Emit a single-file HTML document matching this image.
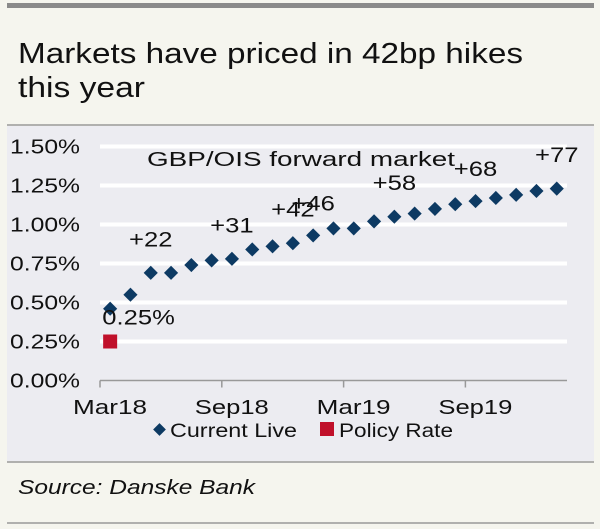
<!DOCTYPE html>
<html><head><meta charset="utf-8"><style>
body{margin:0;width:600px;height:529px;background:#f5f5ee;font-family:"Liberation Sans",sans-serif;overflow:hidden}
svg{display:block}
</style></head><body>
<svg width="600" height="529">
<rect x="7" y="3" width="587" height="5" fill="#8a8a8a"/>
<text x="18" y="63" font-size="29" fill="#111" textLength="505" lengthAdjust="spacingAndGlyphs">Markets have priced in 42bp hikes</text>
<text x="18" y="97" font-size="29" fill="#111" textLength="127" lengthAdjust="spacingAndGlyphs">this year</text>
<line x1="7" y1="125" x2="594" y2="125" stroke="#999" stroke-width="1.5"/>
<rect x="7" y="126" width="587" height="335" fill="#ececf1"/>
<g id="grid"></g>
<g id="axes"></g>
<g id="marks"></g>
<g id="anno"></g>
<text x="147" y="166" font-size="20" fill="#111" textLength="308" lengthAdjust="spacingAndGlyphs">GBP/OIS forward market</text>
<g>
<rect x="155" y="425" width="9" height="9" fill="#0d3a63" transform="rotate(45 159.5 429.5)"/>
<text x="170" y="437" font-size="19" fill="#111" textLength="127" lengthAdjust="spacingAndGlyphs">Current Live</text>
<rect x="320" y="422" width="14" height="14" fill="#c0102a"/>
<text x="339" y="437" font-size="19" fill="#111" textLength="114" lengthAdjust="spacingAndGlyphs">Policy Rate</text>
</g>
<line x1="7" y1="462" x2="594" y2="462" stroke="#999" stroke-width="1.5"/>
<text x="18" y="494" font-size="20" font-style="italic" fill="#111" textLength="237" lengthAdjust="spacingAndGlyphs">Source: Danske Bank</text>
<line x1="7" y1="523" x2="594" y2="523" stroke="#999" stroke-width="1.5"/>
</svg>
<script>
const yTicks=[0,0.25,0.5,0.75,1.0,1.25,1.5];
const yTickLabels=["0.00%","0.25%","0.50%","0.75%","1.00%","1.25%","1.50%"];
const xTickMonths=[0,6,12,18];
const xTickLabels=["Mar18","Sep18","Mar19","Sep19"];
const liveValues=[0.46,0.55,0.69,0.69,0.74,0.77,0.78,0.84,0.86,0.88,0.93,0.975,0.975,1.02,1.05,1.07,1.10,1.13,1.15,1.17,1.19,1.215,1.23];
const policyValues=[0.25];
const annoLabels=["+22","+31","+42","+46","+58","+68","+77","0.25%"];
const annoMonths=[2,6,9,10,14,18,22,1.4];
const annoValues=[0.86,0.95,1.05,1.09,1.22,1.31,1.40,0.36];
const NS="http://www.w3.org/2000/svg";
const xS=m=>100+(m+0.5)*20.3;
const xT=m=>100+m*20.3;
const yS=v=>380.5-v*156;
function mk(t,a,p){const e=document.createElementNS(NS,t);for(const k in a)e.setAttribute(k,a[k]);p.appendChild(e);return e;}
const grid=document.getElementById('grid'),axes=document.getElementById('axes'),marks=document.getElementById('marks'),anno=document.getElementById('anno');
yTicks.forEach((v,i)=>{
 if(v>0){const g=mk('line',{x1:100,x2:567,y1:yS(v),y2:yS(v),stroke:'#fff','stroke-width':4},grid);
 
 }
 const t=mk('text',{x:10,y:yS(v)+7,'font-size':20,fill:'#111',textLength:70,lengthAdjust:'spacingAndGlyphs'},axes);t.textContent=yTickLabels[i];
 
 
});
const ax=mk('line',{x1:100,x2:567,y1:yS(0),y2:yS(0),stroke:'#999','stroke-width':1.5},axes);


xTickMonths.forEach((m,i)=>{
 const l=mk('line',{x1:xT(m),x2:xT(m),y1:yS(0),y2:yS(0)+7,stroke:'#999','stroke-width':1.5},axes);
 
 
 const t=mk('text',{x:xT(m)-27,y:414,'font-size':20,fill:'#111',textLength:74,lengthAdjust:'spacingAndGlyphs'},axes);t.textContent=xTickLabels[i];
 
 
});
liveValues.forEach((v,i)=>{
 const x=xS(i),y=yS(v);
 const d=mk('rect',{x:x-5,y:y-5,width:10,height:10,fill:'#0d3a63',transform:`rotate(45 ${x} ${y})`},marks);
 
 
});
policyValues.forEach((v,i)=>{
 const r=mk('rect',{x:xS(i)-7,y:yS(v)-7,width:14,height:14,fill:'#c0102a'},marks);
 
 
});
annoLabels.forEach((s,i)=>{
 const w=s.length*14.5;
 const t=mk('text',{x:xS(annoMonths[i])-w/2,y:yS(annoValues[i]),'font-size':21,fill:'#111',textLength:w,lengthAdjust:'spacingAndGlyphs'},anno);t.textContent=s;
 
 
});
</script>
</body></html>
